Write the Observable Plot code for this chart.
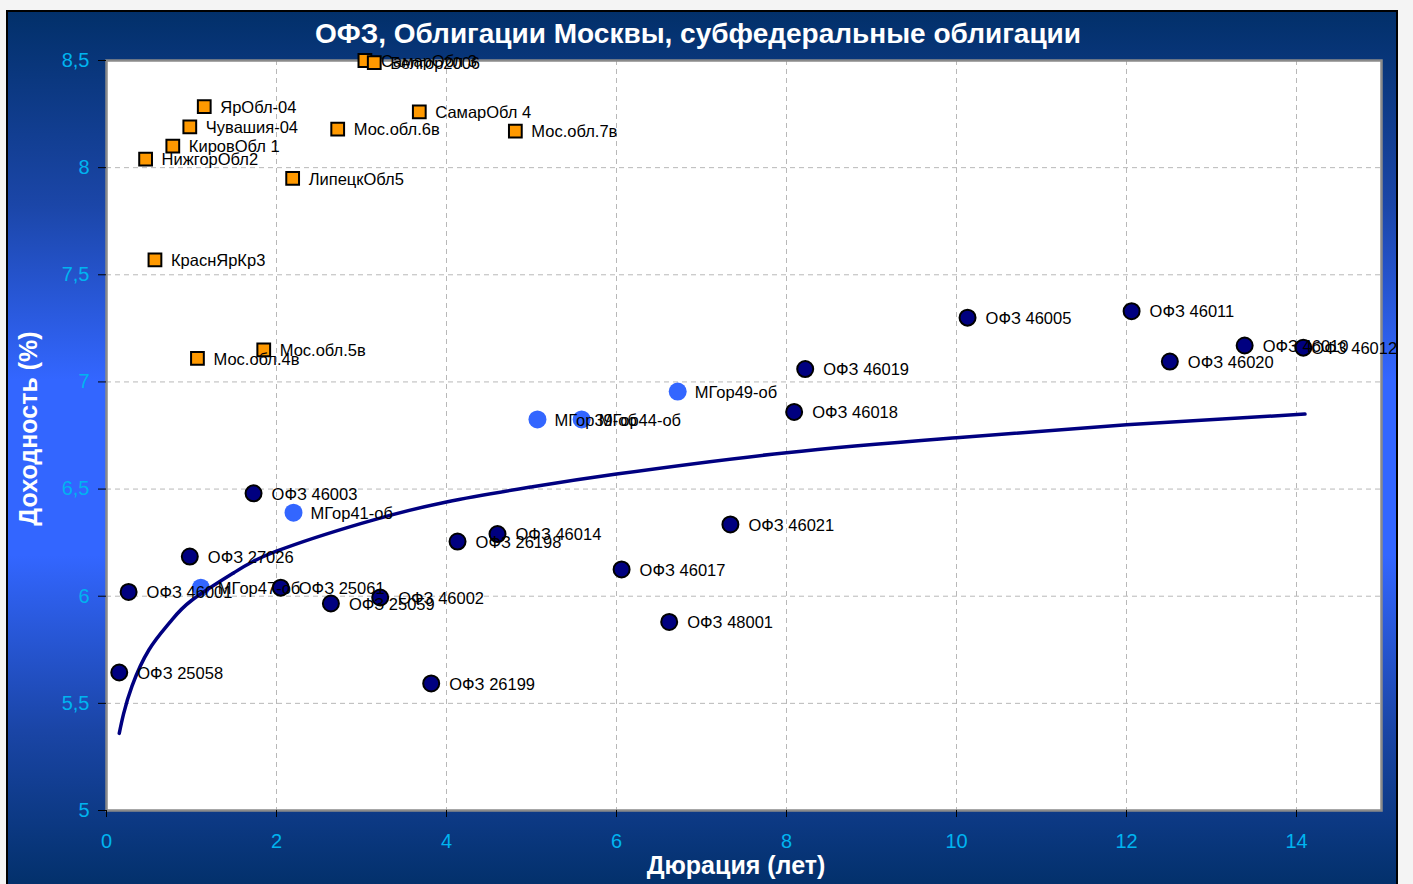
<!DOCTYPE html>
<html>
<head>
<meta charset="utf-8">
<script src="https://cdn.jsdelivr.net/npm/d3@7"></script>
<script src="https://cdn.jsdelivr.net/npm/@observablehq/plot@0.6"></script>
<style>
  html, body { margin: 0; padding: 0; background: #f4f4f4; }
  #wrap { position: relative; width: 1413px; height: 884px; overflow: hidden; }
  #bg {
    position: absolute; left: 6px; top: 10px; width: 1392px; height: 880px;
    border: 2px solid #000; box-sizing: border-box;
    background: linear-gradient(to bottom, #02306a 0%, #1b46a8 22%, #3366ff 42%, #3366ff 62%, #1a45a6 82%, #02306a 100%);
  }
  #chart { position: absolute; left: 0; top: 0; }
</style>
</head>
<body>
<div id="wrap">
  <div id="bg"></div>
  <div id="chart"></div>
</div>
<script>
// ОФЗ (dark navy circles)
const ofzNames = ["ОФЗ 46005","ОФЗ 46011","ОФЗ 46010","ОФЗ 46012","ОФЗ 46020","ОФЗ 46019","ОФЗ 46018","ОФЗ 46003","ОФЗ 46014","ОФЗ 26198","ОФЗ 46021","ОФЗ 27026","ОФЗ 46017","ОФЗ 46001","ОФЗ 25061","ОФЗ 25059","ОФЗ 46002","ОФЗ 48001","ОФЗ 25058","ОФЗ 26199"];
const ofzDur   = [10.13, 12.06, 13.39, 14.08, 12.51, 8.22, 8.09, 1.73, 4.60, 4.13, 7.34, 0.98, 6.06, 0.26, 2.05, 2.64, 3.22, 6.62, 0.15, 3.82];
const ofzYield = [7.30, 7.33, 7.17, 7.16, 7.095, 7.06, 6.86, 6.48, 6.29, 6.255, 6.335, 6.185, 6.125, 6.02, 6.04, 5.966, 5.994, 5.88, 5.644, 5.593];

// Облигации Москвы (light blue circles)
const mgorNames = ["МГор49-об","МГор39-об","МГор44-об","МГор41-об","МГор47-об"];
const mgorDur   = [6.72, 5.07, 5.59, 2.20, 1.11];
const mgorYield = [6.955, 6.825, 6.825, 6.39, 6.04];

// Субфедеральные облигации (orange squares)
const subNames = ["СамарОбл 3","Белгор2006","ЯрОбл-04","Чувашия-04","КировОбл 1","НижгорОбл2","Мос.обл.6в","СамарОбл 4","Мос.обл.7в","ЛипецкОбл5","КраснЯрКр3","Мос.обл.4в","Мос.обл.5в"];
const subDur   = [3.04, 3.15, 1.15, 0.98, 0.78, 0.46, 2.72, 3.68, 4.81, 2.19, 0.57, 1.07, 1.85];
const subYield = [8.50, 8.49, 8.285, 8.19, 8.10, 8.04, 8.18, 8.26, 8.17, 7.95, 7.57, 7.11, 7.15];

// Trend line
const trendDur   = [0.15, 0.2, 0.3, 0.5, 0.75, 1, 1.5, 2, 3, 4, 5, 6, 8, 10, 12, 14.1];
const trendYield = [5.36, 5.45, 5.58, 5.75, 5.88, 5.98, 6.11, 6.21, 6.34, 6.44, 6.51, 6.57, 6.67, 6.74, 6.80, 6.85];

const xTicks = [0, 2, 4, 6, 8, 10, 12, 14];
const yTicks = [5, 5.5, 6, 6.5, 7, 7.5, 8, 8.5];

const titleText = "ОФЗ, Облигации Москвы, субфедеральные облигации";
const xLabel = "Дюрация (лет)";
const yLabel = "Доходность (%)";

const zip = (n, x, y) => n.map((name, i) => ({name, x: x[i], y: y[i]}));
const ofz = zip(ofzNames, ofzDur, ofzYield);
const mgor = zip(mgorNames, mgorDur, mgorYield);
const sub = zip(subNames, subDur, subYield);
const trend = trendDur.map((x, i) => ({x, y: trendYield[i]}));
// Label at the right edge is pulled in to stay inside the chart, as in the reference
const ofzEdge = ofz.filter(d => d.x > 14);
const ofzRest = ofz.filter(d => d.x <= 14);

const labelStyle = {fontSize: 16.5, fill: "#000", textAnchor: "start", fontFamily: "Liberation Sans, Arial, sans-serif"};

const chart = Plot.plot({
  width: 1413,
  height: 884,
  marginLeft: 106,
  marginRight: 32,
  marginTop: 60,
  marginBottom: 74,
  style: {background: "transparent", fontFamily: "Liberation Sans, Arial, sans-serif", overflow: "visible"},
  x: {domain: [0, 15], label: null},
  y: {domain: [5, 8.5], label: null},
  marks: [
    Plot.frame({fill: "white"}),
    Plot.gridX(xTicks.filter(d => d > 0), {stroke: "#b8b8b8", strokeOpacity: 1, strokeDasharray: "5,4"}),
    Plot.gridY(yTicks.filter(d => d > 5 && d < 8.5), {stroke: "#b8b8b8", strokeOpacity: 1, strokeDasharray: "5,4"}),
    Plot.frame({stroke: "#8a8a8a", strokeWidth: 2.5}),
    Plot.axisX({ticks: xTicks, tickSize: 7, tickPadding: 16, fontSize: 20, color: "#00b4f0", stroke: "#000", tickFormat: d => String(d)}),
    Plot.axisY({ticks: yTicks, tickSize: 8, tickPadding: 9, fontSize: 20, color: "#00b4f0", stroke: "#000", tickFormat: d => String(d).replace(".", ",")}),
    Plot.dot(sub, {x: "x", y: "y", symbol: "square", r: 7.2, fill: "#ff9900", stroke: "#000", strokeWidth: 2}),
    Plot.dot(mgor, {x: "x", y: "y", r: 9, fill: "#3366ff"}),
    Plot.dot(ofz, {x: "x", y: "y", r: 8, fill: "#000080", stroke: "#000", strokeWidth: 2}),
    Plot.line(trend, {x: "x", y: "y", stroke: "#000080", strokeWidth: 3.5, curve: "natural"}),
    Plot.text(sub, {x: "x", y: "y", text: "name", dx: 16, dy: 1, ...labelStyle}),
    Plot.text(mgor, {x: "x", y: "y", text: "name", dx: 17, dy: 1, ...labelStyle}),
    Plot.text(ofzRest, {x: "x", y: "y", text: "name", dx: 18, dy: 1, ...labelStyle}),
    Plot.text(ofzEdge, {x: "x", y: "y", text: "name", dx: 8, dy: 1, ...labelStyle}),
    Plot.text([titleText], {frameAnchor: "top", lineAnchor: "middle", textAnchor: "middle", dx: -46, dy: -26, fill: "white", fontSize: 28, fontWeight: "bold"}),
    Plot.text([xLabel], {frameAnchor: "bottom", lineAnchor: "middle", textAnchor: "middle", dx: -8, dy: 55, fill: "white", fontSize: 25, fontWeight: "bold"}),
    Plot.text([yLabel], {frameAnchor: "left", lineAnchor: "middle", textAnchor: "middle", dx: -78, dy: -7, rotate: -90, fill: "white", fontSize: 25, fontWeight: "bold"})
  ]
});
document.getElementById("chart").appendChild(chart);
</script>
</body>
</html>
